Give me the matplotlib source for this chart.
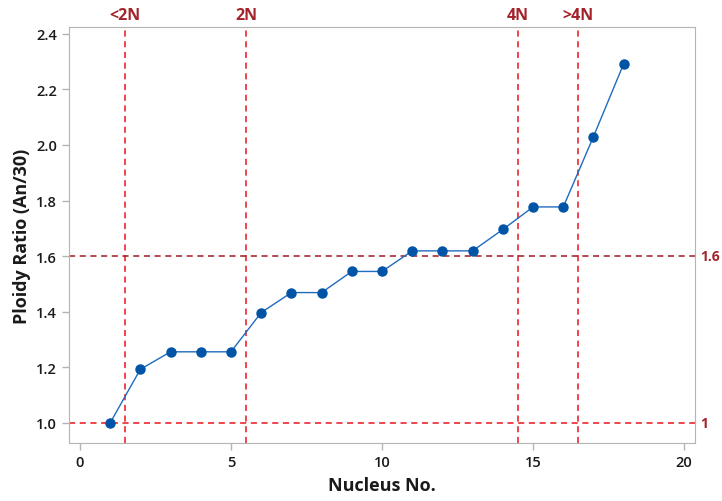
import matplotlib
matplotlib.use("Agg")
import matplotlib.pyplot as plt

# data
nucleus = list(range(1, 19))
ploidy = [1.00, 1.193, 1.256, 1.256, 1.256, 1.397, 1.469, 1.469, 1.545, 1.545,
          1.619, 1.619, 1.619, 1.696, 1.777, 1.777, 2.030, 2.292]
cut_x = [1.5, 5.5, 14.5, 16.5]
cut_labels = ["<2N", "2N", "4N", ">4N"]
ref_y = [1.0, 1.6]
ref_labels = ["1", "1.6"]
ref_colors = ["#E8141C", "#9E1B22"]

plt.rcParams['font.family'] = ['Open Sans', 'DejaVu Sans']

fig = plt.figure(figsize=(7.22, 5.02), dpi=100)
ax = fig.add_axes([0.0956, 0.1155, 0.867, 0.8287])

ax.plot(nucleus, ploidy, color="#1F6BBF", lw=1.0, marker="o", ms=6.5,
        mfc="#0054A6", mec="#0054A6", zorder=3)

label_red = "#A3232B"
for x, lab in zip(cut_x, cut_labels):
    ax.axvline(x, color="#E8141C", ls=(0, (4, 3)), lw=1.1, zorder=2)
    ax.text(x, 1.01, lab, transform=ax.get_xaxis_transform(), ha="center",
            va="bottom", color=label_red, fontsize=11.5, fontweight="bold")
for y, lab, c in zip(ref_y, ref_labels, ref_colors):
    ax.axhline(y, color=c, ls=(0, (4, 3)), lw=1.1, zorder=2)
    ax.text(1.009, y, lab, transform=ax.get_yaxis_transform(), ha="left",
            va="center", color=label_red, fontsize=10, fontweight="bold")

ax.set_xlim(-0.36, 20.36)
ax.set_ylim(0.928, 2.424)
ax.set_xticks([0, 5, 10, 15, 20])
ax.set_yticks([1.0, 1.2, 1.4, 1.6, 1.8, 2.0, 2.2, 2.4])
ax.set_yticklabels([f"{v:.1f}" for v in ax.get_yticks()])

for s in ax.spines.values():
    s.set_color("#B4B4B4")
ax.tick_params(colors="#B4B4B4", labelcolor="#1A1A1A", labelsize=10.5,
               length=5, width=1)
for t in ax.get_xticklabels() + ax.get_yticklabels():
    t.set_fontweight("semibold")

ax.set_xlabel("Nucleus No.", fontsize=13, fontweight="bold", color="#1A1A1A", labelpad=5)
ax.set_ylabel("Ploidy Ratio (An/30)", fontsize=13, fontweight="bold", color="#1A1A1A", labelpad=4)

fig.savefig("out.png", dpi=100)
